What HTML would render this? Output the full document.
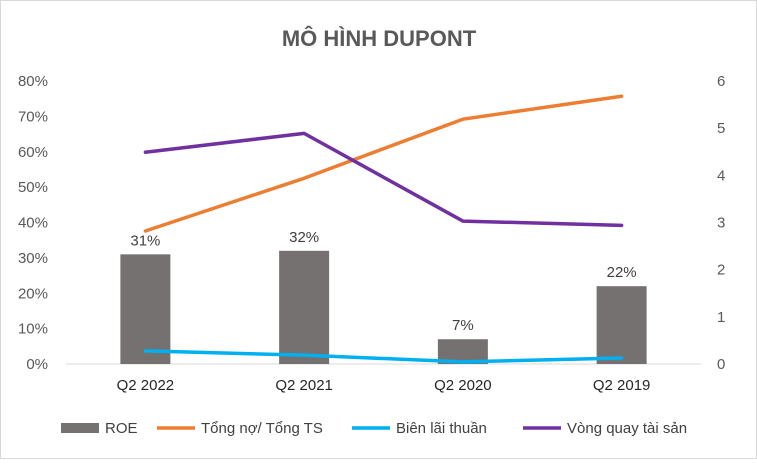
<!DOCTYPE html>
<html><head><meta charset="utf-8"><style>
body{margin:0;background:#fff;font-family:"Liberation Sans",sans-serif;}
#wrap{width:757px;height:459px;position:relative;border:1px solid #d9d9d9;box-sizing:border-box;}
</style></head><body>
<div id="wrap">
<svg id="chart" width="757" height="459" xmlns="http://www.w3.org/2000/svg">
<text x="378" y="45" text-anchor="middle" font-size="22" font-weight="bold" fill="#595959">MÔ HÌNH DUPONT</text>
<g id="axes"></g><g id="bars"></g><g id="lines"></g><g id="legend"></g>
</svg></div>
<script>
const categories=["Q2 2022","Q2 2021","Q2 2020","Q2 2019"];
const roe=[31,32,7,22];
const debtRatio=[37.6,52.5,69.2,75.7];
const netMargin=[3.7,2.5,0.6,1.7];
const assetTurnover=[4.49,4.89,3.03,2.94];
const leftTicks=[0,10,20,30,40,50,60,70,80];
const rightTicks=[0,1,2,3,4,5,6];
const NS="http://www.w3.org/2000/svg";
const x0=65,x1=700,yB=363,yT=80;
const yL=v=>yB-(v/80)*(yB-yT);
const yR=v=>yB-(v/6)*(yB-yT);
const band=(x1-x0)/categories.length;
const xC=i=>x0+band*(i+0.5)+0;
function mk(tag,attrs,parent){const e=document.createElementNS(NS,tag);for(const k in attrs)e.setAttribute(k,attrs[k]);parent.appendChild(e);return e;}
const axes=document.getElementById('axes');
leftTicks.forEach(t=>{const e=mk('text',{x:47,y:yL(t)+5,'text-anchor':'end','font-size':15,fill:'#595959'},axes);e.textContent=t+'%';

});
rightTicks.forEach(t=>{const e=mk('text',{x:716,y:yR(t)+5,'text-anchor':'start','font-size':15,fill:'#595959'},axes);e.textContent=t;

});
const base=mk('line',{x1:x0,x2:x1,y1:yB,y2:yB,stroke:'#d9d9d9'},axes);


categories.forEach((c,i)=>{const e=mk('text',{x:xC(i),y:389,'text-anchor':'middle','font-size':15,fill:'#262626'},axes);e.textContent=c;

});
const bars=document.getElementById('bars');
roe.forEach((v,i)=>{const r=mk('rect',{x:xC(i)-25,y:yL(v),width:50,height:yB-yL(v),fill:'#767171'},bars);


const t=mk('text',{x:xC(i),y:yL(v)-9,'text-anchor':'middle','font-size':15,fill:'#404040'},bars);t.textContent=v+'%';

});
const lines=document.getElementById('lines');
function line(data,fy,color,name){const p=mk('polyline',{points:data.map((v,i)=>xC(i)+','+fy(v)).join(' '),fill:'none',stroke:color,'stroke-width':3.5,'stroke-linejoin':'round','stroke-linecap':'round'},lines);

}
line(debtRatio,yL,'#ED7D31','debt-ratio-line');
line(netMargin,yL,'#00B0F0','net-margin-line');
line(assetTurnover,yR,'#7030A0','asset-turnover-line');
const lg=document.getElementById('legend');
const items=[['ROE','#767171','rect',62],['Tổng nợ/ Tổng TS','#ED7D31','line',158],['Biên lãi thuần','#00B0F0','line',353],['Vòng quay tài sản','#7030A0','line',524]];
items.forEach(([n,c,k,x])=>{const g=mk('g',{},lg);


if(k==='rect')mk('rect',{x:x-2,y:422,width:38,height:10,fill:c},g);
else mk('line',{x1:x-2,x2:x+36,y1:427,y2:427,stroke:c,'stroke-width':3.5},g);
const t=mk('text',{x:x+42,y:432,'font-size':15,fill:'#404040'},g);t.textContent=n;});
</script></body></html>
